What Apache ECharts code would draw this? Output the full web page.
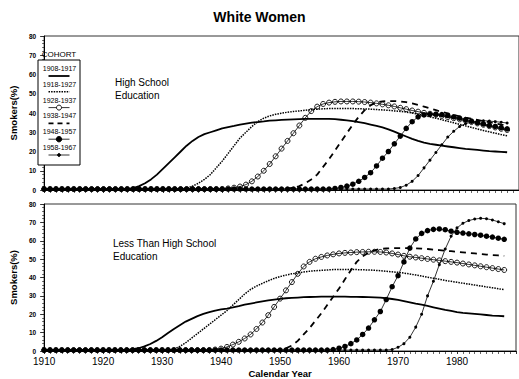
<!DOCTYPE html>
<html>
<head>
<meta charset="utf-8">
<script src="https://cdn.jsdelivr.net/npm/echarts@6/dist/echarts.min.js"></script>
<style>
  html, body { margin: 0; padding: 0; background: #fff; }
  #chart { width: 519px; height: 379px; }
</style>
</head>
<body>
<div id="chart"></div>
<script>
// Calendar years on the x axis
const years = [
  1910,1911,1912,1913,1914,1915,1916,1917,1918,1919,
  1920,1921,1922,1923,1924,1925,1926,1927,1928,1929,
  1930,1931,1932,1933,1934,1935,1936,1937,1938,1939,
  1940,1941,1942,1943,1944,1945,1946,1947,1948,1949,
  1950,1951,1952,1953,1954,1955,1956,1957,1958,1959,
  1960,1961,1962,1963,1964,1965,1966,1967,1968,1969,
  1970,1971,1972,1973,1974,1975,1976,1977,1978,1979,
  1980,1981,1982,1983,1984,1985,1986,1987,1988
];

const xTickLabels = [1910, 1920, 1930, 1940, 1950, 1960, 1970, 1980];
const yTickLabels = [0, 10, 20, 30, 40, 50, 60, 70, 80];

const cohorts = ['1908-1917', '1918-1927', '1928-1937', '1938-1947', '1948-1957', '1958-1967'];

// Smokers (%) – high school education
const hs1908 = [
  0.5,0.5,0.5,0.5,0.5,0.5,0.5,0.5,0.5,0.5,
  0.5,0.5,0.5,0.5,0.5,1,2,3.5,5.5,8,
  11,14,17,20,23,25.5,27.5,29,30,31,
  32,32.7,33.3,34,34.5,35,35.3,35.6,36,36.2,
  36.4,36.6,36.7,36.8,36.9,37,37,37,37,36.8,
  36.5,36.2,35.8,35.3,34.7,34,33.3,32.5,31.5,30.3,
  29,27.8,26.6,25.5,24.6,24,23.5,23,22.6,22.2,
  21.8,21.4,21.1,20.8,20.5,20.2,20,19.8,19.6
];
const hs1918 = [
  0.5,0.5,0.5,0.5,0.5,0.5,0.5,0.5,0.5,0.5,
  0.5,0.5,0.5,0.5,0.5,0.5,0.5,0.5,0.5,0.5,
  0.5,0.5,0.5,0.5,1,2,3.5,5.5,8,11.5,
  15,19,23,27,30,33,35.5,37.3,38.5,39.3,
  39.9,40.4,40.8,41.1,41.4,41.7,42,42.2,42.3,42.4,
  42.4,42.4,42.3,42.2,42.1,42,41.8,41.6,41.4,41.1,
  40.8,40.5,40,39.4,38.7,38,37.3,36.5,35.7,34.9,
  34.1,33.3,32.5,31.7,30.9,30.2,29.5,28.8,28.2
];
const hs1928 = [
  0.5,0.5,0.5,0.5,0.5,0.5,0.5,0.5,0.5,0.5,
  0.5,0.5,0.5,0.5,0.5,0.5,0.5,0.5,0.5,0.5,
  0.5,0.5,0.5,0.5,0.5,0.5,0.5,0.5,0.5,0.5,
  0.5,0.8,1.2,1.8,2.8,4.5,7,10,13.5,17.5,
  21.5,25.5,29.5,33.5,37.5,41,43.3,44.7,45.4,45.8,
  46,46,46,45.9,45.7,45.4,45,44.5,44,43.4,
  42.7,42,41.3,40.7,40.1,39.6,39.1,38.5,37.9,37.3,
  36.7,36,35.3,34.6,33.9,33.2,32.5,31.8,31.2
];
const hs1938 = [
  0.5,0.5,0.5,0.5,0.5,0.5,0.5,0.5,0.5,0.5,
  0.5,0.5,0.5,0.5,0.5,0.5,0.5,0.5,0.5,0.5,
  0.5,0.5,0.5,0.5,0.5,0.5,0.5,0.5,0.5,0.5,
  0.5,0.5,0.5,0.5,0.5,0.5,0.5,0.5,0.5,0.5,
  0.5,0.8,1.2,2,3.5,5.5,8,12,16,20.5,
  25,29.5,34,38,41.5,44,45.5,46,46.2,46.2,
  46,45.6,45,44.2,43.3,42.4,41.5,40.6,39.8,39,
  38.3,37.6,37,36.4,35.8,35.2,34.6,34,33.5
];
const hs1948 = [
  0.5,0.5,0.5,0.5,0.5,0.5,0.5,0.5,0.5,0.5,
  0.5,0.5,0.5,0.5,0.5,0.5,0.5,0.5,0.5,0.5,
  0.5,0.5,0.5,0.5,0.5,0.5,0.5,0.5,0.5,0.5,
  0.5,0.5,0.5,0.5,0.5,0.5,0.5,0.5,0.5,0.5,
  0.5,0.5,0.5,0.5,0.5,0.5,0.5,0.5,0.5,0.8,
  1.3,2,3,4.5,6.5,9,12.5,16.5,20,24,
  28,32,35.5,38,39,39.3,39.4,39.2,38.7,38,
  37.3,36.6,35.8,35,34.3,33.6,33,32.4,31.8
];
const hs1958 = [
  0.5,0.5,0.5,0.5,0.5,0.5,0.5,0.5,0.5,0.5,
  0.5,0.5,0.5,0.5,0.5,0.5,0.5,0.5,0.5,0.5,
  0.5,0.5,0.5,0.5,0.5,0.5,0.5,0.5,0.5,0.5,
  0.5,0.5,0.5,0.5,0.5,0.5,0.5,0.5,0.5,0.5,
  0.5,0.5,0.5,0.5,0.5,0.5,0.5,0.5,0.5,0.5,
  0.5,0.5,0.5,0.5,0.5,0.5,0.5,0.5,0.5,0.8,
  1.3,2.5,4.5,7.5,11.5,15.5,19.5,23.5,27.5,30.5,
  33,34.5,35.2,35.8,36,35.8,35.5,35.2,34.8
];

// Smokers (%) – less than high school education
const lt1908 = [
  0.5,0.5,0.5,0.5,0.5,0.5,0.5,0.5,0.5,0.5,
  0.5,0.5,0.5,0.5,0.5,1,1.5,2.5,3.8,5.5,
  7.5,9.8,12,14,16,17.5,19,20.2,21.2,22,
  22.6,23.1,23.7,24.4,25.2,25.8,26.4,27,27.5,28,
  28.4,28.7,28.9,29.1,29.3,29.4,29.5,29.6,29.6,29.6,
  29.6,29.6,29.5,29.5,29.4,29.3,29.2,29,28.7,28.3,
  27.8,27.2,26.5,25.8,25.2,24.5,23.8,23.1,22.4,21.8,
  21.2,20.8,20.5,20.2,19.9,19.6,19.3,19.1,18.9
];
const lt1918 = [
  0.5,0.5,0.5,0.5,0.5,0.5,0.5,0.5,0.5,0.5,
  0.5,0.5,0.5,0.5,0.5,0.5,0.5,0.5,0.5,0.5,
  0.5,0.5,1,2.5,4.5,7,9.5,12,14.5,17,
  19.5,22,25,28,31,33.5,35.3,36.8,38.2,39.5,
  40.5,41.3,42,42.5,43,43.4,43.7,43.9,44.1,44.3,
  44.4,44.4,44.3,44.3,44.2,44.1,43.9,43.7,43.4,43.1,
  42.8,42.4,41.9,41.4,40.8,40.2,39.6,39,38.4,37.9,
  37.4,36.9,36.4,35.9,35.4,34.9,34.4,33.9,33.4
];
const lt1928 = [
  0.5,0.5,0.5,0.5,0.5,0.5,0.5,0.5,0.5,0.5,
  0.5,0.5,0.5,0.5,0.5,0.5,0.5,0.5,0.5,0.5,
  0.5,0.5,0.5,0.5,0.5,0.5,0.5,0.5,0.5,0.8,
  1.3,2.2,3.5,5,6.8,9,12,15.5,19.5,24,
  28.5,33,37.5,42,46,48.5,50.2,51.2,52,52.6,
  53.1,53.4,53.6,53.8,53.9,54,54,53.9,53.6,53.1,
  52.5,51.8,51.3,50.9,50.5,50.1,49.7,49.3,48.9,48.5,
  48.1,47.6,47.1,46.6,46.1,45.6,45.1,44.6,44.1
];
const lt1938 = [
  0.5,0.5,0.5,0.5,0.5,0.5,0.5,0.5,0.5,0.5,
  0.5,0.5,0.5,0.5,0.5,0.5,0.5,0.5,0.5,0.5,
  0.5,0.5,0.5,0.5,0.5,0.5,0.5,0.5,0.5,0.5,
  0.5,0.5,0.5,0.5,0.5,0.5,0.5,0.5,0.5,0.5,
  0.8,1.5,3,5.5,9,12.5,16.5,20.5,25,29.5,
  34,39,44,48.5,51.5,53.5,54.8,55.5,55.8,56,
  56,56,56,55.9,55.7,55.5,55.2,54.9,54.6,54.3,
  54,53.7,53.4,53.1,52.8,52.5,52.2,52,51.8
];
const lt1948 = [
  0.5,0.5,0.5,0.5,0.5,0.5,0.5,0.5,0.5,0.5,
  0.5,0.5,0.5,0.5,0.5,0.5,0.5,0.5,0.5,0.5,
  0.5,0.5,0.5,0.5,0.5,0.5,0.5,0.5,0.5,0.5,
  0.5,0.5,0.5,0.5,0.5,0.5,0.5,0.5,0.5,0.5,
  0.5,0.5,0.5,0.5,0.5,0.5,0.5,0.5,0.5,0.8,
  1.5,2.5,4,6,9,12.5,17,21.5,28,35,
  41,48.5,56,61,64,65.5,66.2,66.4,66,65.2,
  64.6,64.2,63.8,63.4,63,62.5,62,61.4,60.8
];
const lt1958 = [
  0.5,0.5,0.5,0.5,0.5,0.5,0.5,0.5,0.5,0.5,
  0.5,0.5,0.5,0.5,0.5,0.5,0.5,0.5,0.5,0.5,
  0.5,0.5,0.5,0.5,0.5,0.5,0.5,0.5,0.5,0.5,
  0.5,0.5,0.5,0.5,0.5,0.5,0.5,0.5,0.5,0.5,
  0.5,0.5,0.5,0.5,0.5,0.5,0.5,0.5,0.5,0.5,
  0.5,0.5,0.5,0.5,0.5,0.5,0.5,0.5,0.5,0.8,
  2,4,7.5,13,20,30,38,47,55.5,62.5,
  67,69.5,71,71.8,72.2,72,71.3,70.3,69.3
];

const highSchool = [hs1908, hs1918, hs1928, hs1938, hs1948, hs1958];
const lessThanHS = [lt1908, lt1918, lt1928, lt1938, lt1948, lt1958];

// Line / marker look of each cohort
const cohortStyles = [
  { line: { width: 1.8, type: 'solid' }, symbol: 'none', size: 0, fill: '#000' },
  { line: { width: 1.5, type: [1.5, 1.1] }, symbol: 'none', size: 0, fill: '#000' },
  { line: { width: 0.8, type: 'solid' }, symbol: 'circle', size: 5, fill: 'rgba(0,0,0,0)' },
  { line: { width: 1.8, type: [6, 5] }, symbol: 'none', size: 0, fill: '#000' },
  { line: { width: 0.8, type: 'solid' }, symbol: 'circle', size: 5.5, fill: '#000' },
  { line: { width: 0.8, type: 'solid' }, symbol: 'circle', size: 3, fill: '#000' }
];

const FONT = 'Liberation Sans, Arial, sans-serif';

function makeSeries(values, idx, panel) {
  const st = cohortStyles[idx];
  return {
    name: cohorts[idx],
    type: 'line',
    xAxisIndex: panel,
    yAxisIndex: panel,
    data: years.map((y, i) => [y, values[i]]),
    symbol: st.symbol,
    symbolSize: st.size,
    showSymbol: st.symbol !== 'none',
    smooth: false,
    lineStyle: { color: '#000', width: st.line.width, type: st.line.type },
    itemStyle: { color: st.fill, borderColor: '#000', borderWidth: idx === 2 ? 0.9 : 0 },
    emphasis: { disabled: true },
    animation: false,
    z: 2 + idx
  };
}

function xAxisFor(gridIndex, showLabels) {
  return {
    type: 'value',
    gridIndex: gridIndex,
    min: xTickLabels[0],
    max: 1990,
    interval: 10,
    axisLine: { show: true, lineStyle: { color: '#000', width: 1 } },
    axisTick: { show: true, length: 3, lineStyle: { color: '#000', width: 0.8 } },
    minorTick: { show: true, splitNumber: 10, length: 3, lineStyle: { color: '#000', width: 0.6 } },
    splitLine: { show: false },
    axisLabel: {
      show: showLabels,
      margin: 5,
      fontFamily: FONT,
      fontSize: 10,
      color: '#000',
      formatter: v => (xTickLabels.indexOf(v) >= 0 ? String(v) : '')
    },
    name: showLabels ? 'Calendar Year' : '',
    nameLocation: 'middle',
    nameGap: 17,
    nameTextStyle: { fontFamily: FONT, fontSize: 9.5, fontWeight: 'bold', color: '#000' }
  };
}

function yAxisFor(gridIndex) {
  return {
    type: 'value',
    gridIndex: gridIndex,
    min: yTickLabels[0],
    max: yTickLabels[yTickLabels.length - 1],
    interval: 10,
    axisLine: { show: true, lineStyle: { color: '#000', width: 1 } },
    axisTick: { show: true, length: 4, lineStyle: { color: '#000', width: 0.8 } },
    minorTick: { show: true, splitNumber: 5, length: 2, lineStyle: { color: '#000', width: 0.6 } },
    splitLine: { show: false },
    axisLabel: {
      margin: 8,
      fontFamily: FONT,
      fontSize: 6.5,
      fontWeight: 'bold',
      color: '#000',
      formatter: v => (yTickLabels.indexOf(v) >= 0 ? String(v) : '')
    },
    name: 'Smokers(%)',
    nameLocation: 'middle',
    nameGap: 18,
    nameTextStyle: { fontFamily: FONT, fontSize: 9.5, fontWeight: 'bold', color: '#000' }
  };
}

// Cohort key: a box listing each cohort label above its line sample
const keyX = 38, keyW = 42, keyTop = 60, keyH = 105;
const keyCx = keyX + keyW / 2;
const keyRowGap = 15.8;
const keyElements = [
  { type: 'rect', z: 100, shape: { x: keyX, y: keyTop, width: keyW, height: keyH },
    style: { fill: '#fff', stroke: '#000', lineWidth: 1 } },
  { type: 'text', z: 101, x: keyCx, y: 50,
    style: { text: 'COHORT', fontSize: 8, fontFamily: FONT, fill: '#000',
             textAlign: 'center', align: 'center', textVerticalAlign: 'top', verticalAlign: 'top' } }
];
cohorts.forEach((c, i) => {
  const ty = 65 + i * keyRowGap;
  const sy = ty + 11;
  const st = cohortStyles[i];
  keyElements.push({ type: 'text', z: 101, x: keyCx + 0.5, y: ty,
    style: { text: c, fontSize: 7, fontFamily: FONT, fill: '#000',
             textAlign: 'center', align: 'center', textVerticalAlign: 'top', verticalAlign: 'top' } });
  keyElements.push({ type: 'line', z: 101, shape: { x1: keyCx - 10.5, y1: sy, x2: keyCx + 10.5, y2: sy },
    style: { stroke: '#000', lineWidth: st.line.width,
             lineDash: i === 1 ? [1.5, 1.1] : (i === 3 ? [5, 4] : null) } });
  if (st.symbol === 'circle') {
    keyElements.push({ type: 'circle', z: 102, shape: { cx: keyCx, cy: sy, r: st.size / 2 },
      style: { fill: i === 2 ? '#fff' : '#000', stroke: '#000', lineWidth: 0.9 } });
  }
});

const option = {
  animation: false,
  backgroundColor: '#fff',
  title: {
    text: 'White Women',
    left: 'center',
    top: 5,
    textStyle: { fontFamily: FONT, fontSize: 14, fontWeight: 'bold', color: '#000' }
  },
  grid: [
    { left: 34, top: 36, width: 499, height: 154, show: true, borderColor: '#333', borderWidth: 1, backgroundColor: 'transparent' },
    { left: 34, top: 204, width: 499, height: 148, show: true, borderColor: '#333', borderWidth: 1, backgroundColor: 'transparent' }
  ],
  xAxis: [xAxisFor(0, false), xAxisFor(1, true)],
  yAxis: [yAxisFor(0), yAxisFor(1)],
  series: [
    ...highSchool.map((v, i) => makeSeries(v, i, 0)),
    ...lessThanHS.map((v, i) => makeSeries(v, i, 1))
  ],
  graphic: [
    ...keyElements,
    { type: 'text', x: 115, y: 76,
      style: { text: 'High School\nEducation', fontSize: 10, fontFamily: FONT, fill: '#000', lineHeight: 13 } },
    { type: 'text', x: 113, y: 236.5,
      style: { text: 'Less Than High School\nEducation', fontSize: 10, fontFamily: FONT, fill: '#000', lineHeight: 13 } }
  ]
};

const chart = echarts.init(document.getElementById('chart'), null, { renderer: 'svg' });
chart.setOption(option);
</script>
</body>
</html>
